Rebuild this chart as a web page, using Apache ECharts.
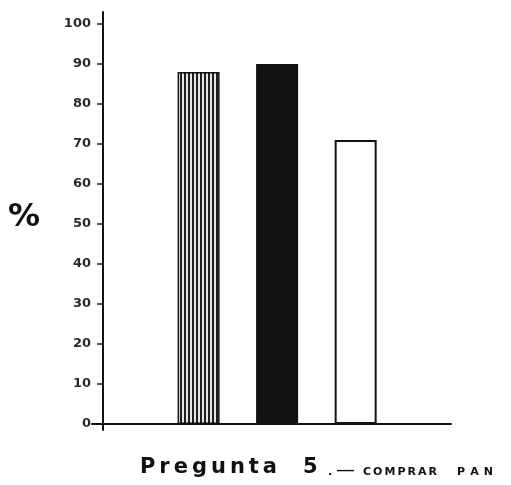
<!DOCTYPE html>
<html>
<head>
<meta charset="utf-8">
<script src="https://cdn.jsdelivr.net/npm/echarts@6/dist/echarts.min.js"></script>
<style>
  html, body { margin: 0; background: #fff; }
  #chart { width: 511px; height: 485px; }
</style>
</head>
<body>
<div id="chart"></div>
<script>
// datos
const barPositions = [8.5, 15.5, 22.5]   // posición de cada barra sobre el eje x
const barValues = [88, 90, 71]
const yTicks = [0, 10, 20, 30, 40, 50, 60, 70, 80, 90, 100]
const yName = '%'
const titleMain = 'Pregunta'
const titleNum = '5'
const titleSub = ['.—', 'COMPRAR', 'PAN']

// trama de rayas verticales para la primera barra
const stripe = document.createElement('canvas')
stripe.width = 4
stripe.height = 4
const sctx = stripe.getContext('2d')
sctx.fillStyle = '#e6e6e6'
sctx.fillRect(0, 0, 4, 4)
sctx.fillStyle = '#1e1e1e'
sctx.fillRect(0, 0, 2, 4)

const barStyles = [
  { color: { image: stripe, repeat: 'repeat' }, borderColor: '#111', borderWidth: 1.5 },
  { color: '#111', borderColor: '#111', borderWidth: 1.5 },
  { color: '#fff', borderColor: '#111', borderWidth: 2 }
]

// texto espaciado letra a letra (el original tiene mucho interletrado)
const measure = document.createElement('canvas').getContext('2d')
function textEl(str, x, y, font) {
  return {
    type: 'text', x: x, y: y, silent: true,
    style: { text: str, font: font, fill: '#111', textAlign: 'left', align: 'left', textVerticalAlign: 'middle', verticalAlign: 'middle' }
  }
}
function spaced(str, x0, x1, y, font) {
  measure.font = font
  const chars = [...str]
  const widths = chars.map(c => measure.measureText(c).width)
  const total = widths.reduce((a, b) => a + b, 0)
  const gap = chars.length > 1 ? ((x1 - x0) - total) / (chars.length - 1) : 0
  let x = x0
  return chars.map((c, i) => {
    const el = textEl(c, x, y, font)
    x += widths[i] + gap
    return el
  })
}

const bigFont = 'bold 21px "DejaVu Sans"'
const smallFont = 'bold 11px "DejaVu Sans"'
const dashFont = 'normal 19px "DejaVu Sans"'
const [dot, dash] = [...titleSub[0]]

const graphics = [
  {
    type: 'text', x: 24, y: 218, silent: true,
    style: { text: yName, font: 'bold 32px "DejaVu Sans"', fill: '#111', textAlign: 'center', align: 'center', textVerticalAlign: 'middle', verticalAlign: 'middle' }
  },
  ...spaced(titleMain, 140, 277, 468, bigFont),
  ...spaced(titleNum, 303, 320, 468, bigFont),
  textEl(dot, 328, 472, smallFont),
  textEl(dash, 336, 471, dashFont),
  ...spaced(titleSub[1], 363, 437, 472, smallFont),
  ...spaced(titleSub[2], 457, 493, 472, smallFont)
]

const chart = echarts.init(document.getElementById('chart'))

chart.setOption({
  animation: false,
  backgroundColor: '#fff',
  grid: { left: 92, right: 60, top: 12, bottom: 55 },
  xAxis: {
    type: 'value',
    min: -1,
    max: 31,
    axisLine: { show: true, onZero: true, lineStyle: { color: '#111', width: 2 } },
    axisTick: { show: false },
    axisLabel: { show: false },
    splitLine: { show: false }
  },
  yAxis: {
    type: 'value',
    min: -1.5,
    max: 103,
    axisLine: { show: true, onZero: true, lineStyle: { color: '#111', width: 2 } },
    axisTick: { show: true, length: 6, customValues: yTicks, lineStyle: { color: '#111', width: 1.5 } },
    axisLabel: {
      show: true,
      customValues: yTicks,
      margin: 1,
      color: '#2a2a2a',
      fontFamily: 'DejaVu Sans',
      fontWeight: 'bold',
      fontSize: 13
    },
    splitLine: { show: false }
  },
  series: [
    {
      type: 'bar',
      barWidth: 42,
      data: barPositions.map((p, i) => ({ value: [p, barValues[i]], itemStyle: barStyles[i] }))
    }
  ],
  graphic: graphics
})
</script>
</body>
</html>
